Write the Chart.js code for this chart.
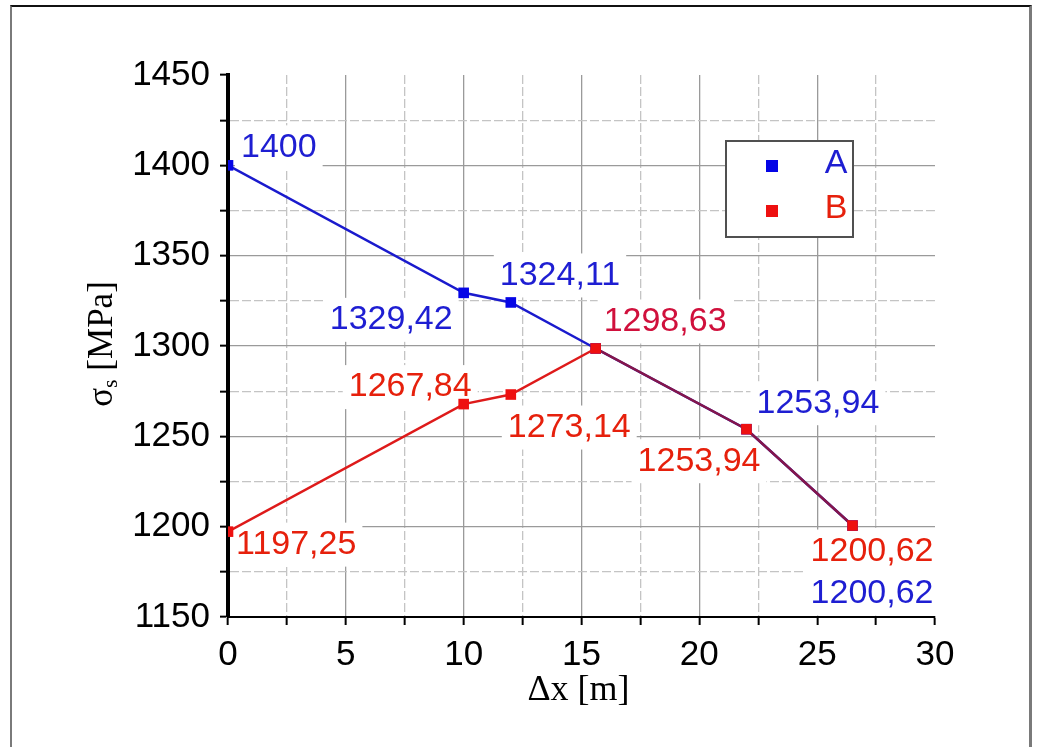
<!DOCTYPE html>
<html><head><meta charset="utf-8">
<script src="https://cdn.jsdelivr.net/npm/chart.js@4.4.0/dist/chart.umd.min.js"></script>
<style>
html,body{margin:0;padding:0;background:#fff;}
#wrap{position:absolute;left:0;top:0;width:1037px;height:747px;overflow:hidden;background:#fff;}
#frame{position:absolute;left:10px;top:5px;width:1022px;height:800px;border-left:2px solid #7a7a7a;border-top:2px solid #111;border-right:3px solid #7a7a7a;box-sizing:border-box;}
canvas{position:absolute;left:0;top:0;}
</style></head>
<body><div id="wrap"><div id="frame"></div><canvas id="c" width="1037" height="747"></canvas></div>
<script>
// ---- data ----
const xValuesA = [0, 10, 12, 15.6, 22, 26.5];
const seriesA  = [1400, 1329.42, 1324.11, 1298.63, 1253.94, 1200.62];
const xValuesB = [0, 10, 12, 15.6, 22, 26.5];
const seriesB  = [1197.25, 1267.84, 1273.14, 1298.63, 1253.94, 1200.62];
const xTickLabels = [0, 5, 10, 15, 20, 25, 30];
const yTickLabels = [1150, 1200, 1250, 1300, 1350, 1400, 1450];
const seriesNames = ['A', 'B'];
const xTitle = 'Δx [m]';

// ---- styling / placement ----
const labelFont = '34px "Liberation Sans", Arial, sans-serif';
const placeA = [
  {dx: 13, dy: -18, align: 'left'},
  {dx: -11, dy: 27, align: 'right'},
  {dx: -11, dy: -27, align: 'left'},
  null,
  {dx: 10, dy: -26, align: 'left'},
  {dx: 81, dy: 68, align: 'right'}
];
const placeB = [
  {dx: 8, dy: 13, align: 'left'},
  {dx: 8, dy: -17, align: 'right'},
  {dx: -3, dy: 33, align: 'left'},
  {dx: 8, dy: -27, align: 'left', color: '#d0103c'},
  {dx: 14, dy: 32, align: 'right'},
  {dx: 81, dy: 26, align: 'right'}
];

function fmt(v) {
  return Number.isInteger(v) ? String(v) : v.toFixed(2).replace('.', ',');
}

function drawLabels(chart, bg) {
  const ctx = chart.ctx;
  ctx.save();
  ctx.font = labelFont;
  ctx.textBaseline = 'middle';
  ctx.textAlign = 'left';
  chart.data.datasets.forEach((ds, di) => {
    const meta = chart.getDatasetMeta(di);
    meta.data.forEach((pt, i) => {
      const p = ds.labelPlacement[i];
      if (!p) return;
      const text = fmt(ds.data[i].y);
      const w = ctx.measureText(text).width;
      const x = pt.x + p.dx, y = pt.y + p.dy;
      const left = p.align === 'right' ? x - w : x;
      if (bg) {
        ctx.fillStyle = '#fff';
        ctx.fillRect(left - 6, y - 22, w + 12, 44);
      } else {
        ctx.fillStyle = p.color || ds.labelColor;
        ctx.fillText(text, left, y);
      }
    });
  });
  ctx.restore();
}

const pointLabels = {
  id: 'pointLabels',
  beforeDatasetsDraw(chart) { drawLabels(chart, true); },
  afterDatasetsDraw(chart) { drawLabels(chart, false); }
};

const legendBox = {
  id: 'legendBox',
  afterDraw(chart) {
    const {ctx, chartArea: a} = chart;
    const x0 = a.left + 498, y0 = a.top + 66, w = 127, h = 96;
    ctx.save();
    ctx.fillStyle = '#fff';
    ctx.fillRect(x0, y0, w, h);
    ctx.strokeStyle = '#505050';
    ctx.lineWidth = 2;
    ctx.strokeRect(x0, y0, w, h);
    ctx.font = labelFont;
    ctx.textAlign = 'center';
    ctx.textBaseline = 'middle';
    chart.data.datasets.forEach((ds, i) => {
      const cy = y0 + 25 + i * 45;
      ctx.fillStyle = ds.pointBackgroundColor;
      ctx.fillRect(x0 + 40, cy - 6, 12, 12);
      ctx.fillStyle = ds.labelColor;
      ctx.fillText(ds.label, x0 + 110, cy - 2);
    });
    ctx.restore();
  }
};

const axisTitles = {
  id: 'axisTitles',
  afterDraw(chart) {
    const {ctx, chartArea: a} = chart;
    ctx.save();
    ctx.fillStyle = '#000';
    ctx.font = '36px "Liberation Serif", "Times New Roman", serif';
    ctx.textAlign = 'center';
    ctx.textBaseline = 'alphabetic';
    ctx.fillText(xTitle, (a.left + a.right) / 2 - 3, a.bottom + 83);
    ctx.translate(a.left - 116, (a.top + a.bottom) / 2 - 2);
    ctx.rotate(-Math.PI / 2);
    const main = '35px "Liberation Serif", "Times New Roman", serif';
    const sub = '22px "Liberation Serif", "Times New Roman", serif';
    ctx.font = main;
    const w1 = ctx.measureText('σ').width;
    const w3 = ctx.measureText(' [MPa]').width;
    ctx.font = sub;
    const w2 = ctx.measureText('s').width;
    let x = -(w1 + w2 + w3) / 2;
    ctx.textAlign = 'left';
    ctx.font = main; ctx.fillText('σ', x, 0); x += w1;
    ctx.font = sub; ctx.fillText('s', x, 5); x += w2;
    ctx.font = main; ctx.fillText(' [MPa]', x, 0);
    ctx.restore();
  }
};

function gridColor(majorStep, hideVals) {
  return ctx => {
    if (!ctx.tick) return '#999';
    const v = ctx.tick.value;
    if (hideVals.includes(v)) return 'rgba(0,0,0,0)';
    return Math.abs(v % majorStep) < 1e-9 ? '#9a9a9a' : '#c4c4c4';
  };
}
function gridDash(majorStep) {
  return ctx => {
    if (!ctx.tick) return [];
    return Math.abs(ctx.tick.value % majorStep) < 1e-9 ? [] : [9, 3];
  };
}

new Chart(document.getElementById('c'), {
  type: 'line',
  data: {
    datasets: [
      {
        label: seriesNames[0],
        data: xValuesA.map((x, i) => ({x, y: seriesA[i]})),
        borderColor: '#1a1acd',
        borderWidth: 2.5,
        pointStyle: 'rect',
        pointRadius: 7.5,
        pointBackgroundColor: '#0505e6',
        pointBorderWidth: 0,
        tension: 0,
        order: 2,
        labelColor: '#1e1ed2',
        labelPlacement: placeA
      },
      {
        label: seriesNames[1],
        data: xValuesB.map((x, i) => ({x, y: seriesB[i]})),
        borderColor: '#de1a1a',
        segment: { borderColor: ctx => ctx.p0DataIndex >= 3 ? '#85164a' : '#de1a1a' },
        borderWidth: 2.5,
        pointStyle: 'rect',
        pointRadius: 7.5,
        pointBackgroundColor: '#ee1010',
        pointBorderWidth: 0,
        tension: 0,
        order: 1,
        labelColor: '#e6200c',
        labelPlacement: placeB
      }
    ]
  },
  options: {
    responsive: false,
    animation: false,
    devicePixelRatio: 1,
    layout: { padding: { left: 0, top: 75, right: 102, bottom: 0 } },
    plugins: { legend: { display: false }, tooltip: { enabled: false } },
    scales: {
      x: {
        type: 'linear', min: 0, max: 30,
        afterFit: s => { s.height = 130; },
        ticks: {
          stepSize: 2.5, autoSkip: false, maxRotation: 0, padding: 9, color: '#000',
          font: { family: '"Liberation Sans", Arial, sans-serif', size: 35 },
          callback: v => xTickLabels.includes(v) ? String(v) : ''
        },
        grid: { color: gridColor(5, [0, 30]), lineWidth: 1.3, tickLength: 8, tickColor: '#000', tickWidth: 2 },
        border: { color: '#000', width: 2, dash: gridDash(5) }
      },
      y: {
        type: 'linear', min: 1150, max: 1450,
        afterFit: s => { s.width = 228; },
        ticks: {
          stepSize: 25, autoSkip: false, padding: 10, color: '#000',
          font: { family: '"Liberation Sans", Arial, sans-serif', size: 35 },
          callback: v => yTickLabels.includes(v) ? String(v) : ''
        },
        grid: { color: gridColor(50, [1150, 1450]), lineWidth: 1.3, tickLength: 8, tickColor: '#000', tickWidth: 2 },
        border: { color: '#000', width: 4, dash: gridDash(50) }
      }
    }
  },
  plugins: [pointLabels, legendBox, axisTitles]
});
</script>
</body></html>
